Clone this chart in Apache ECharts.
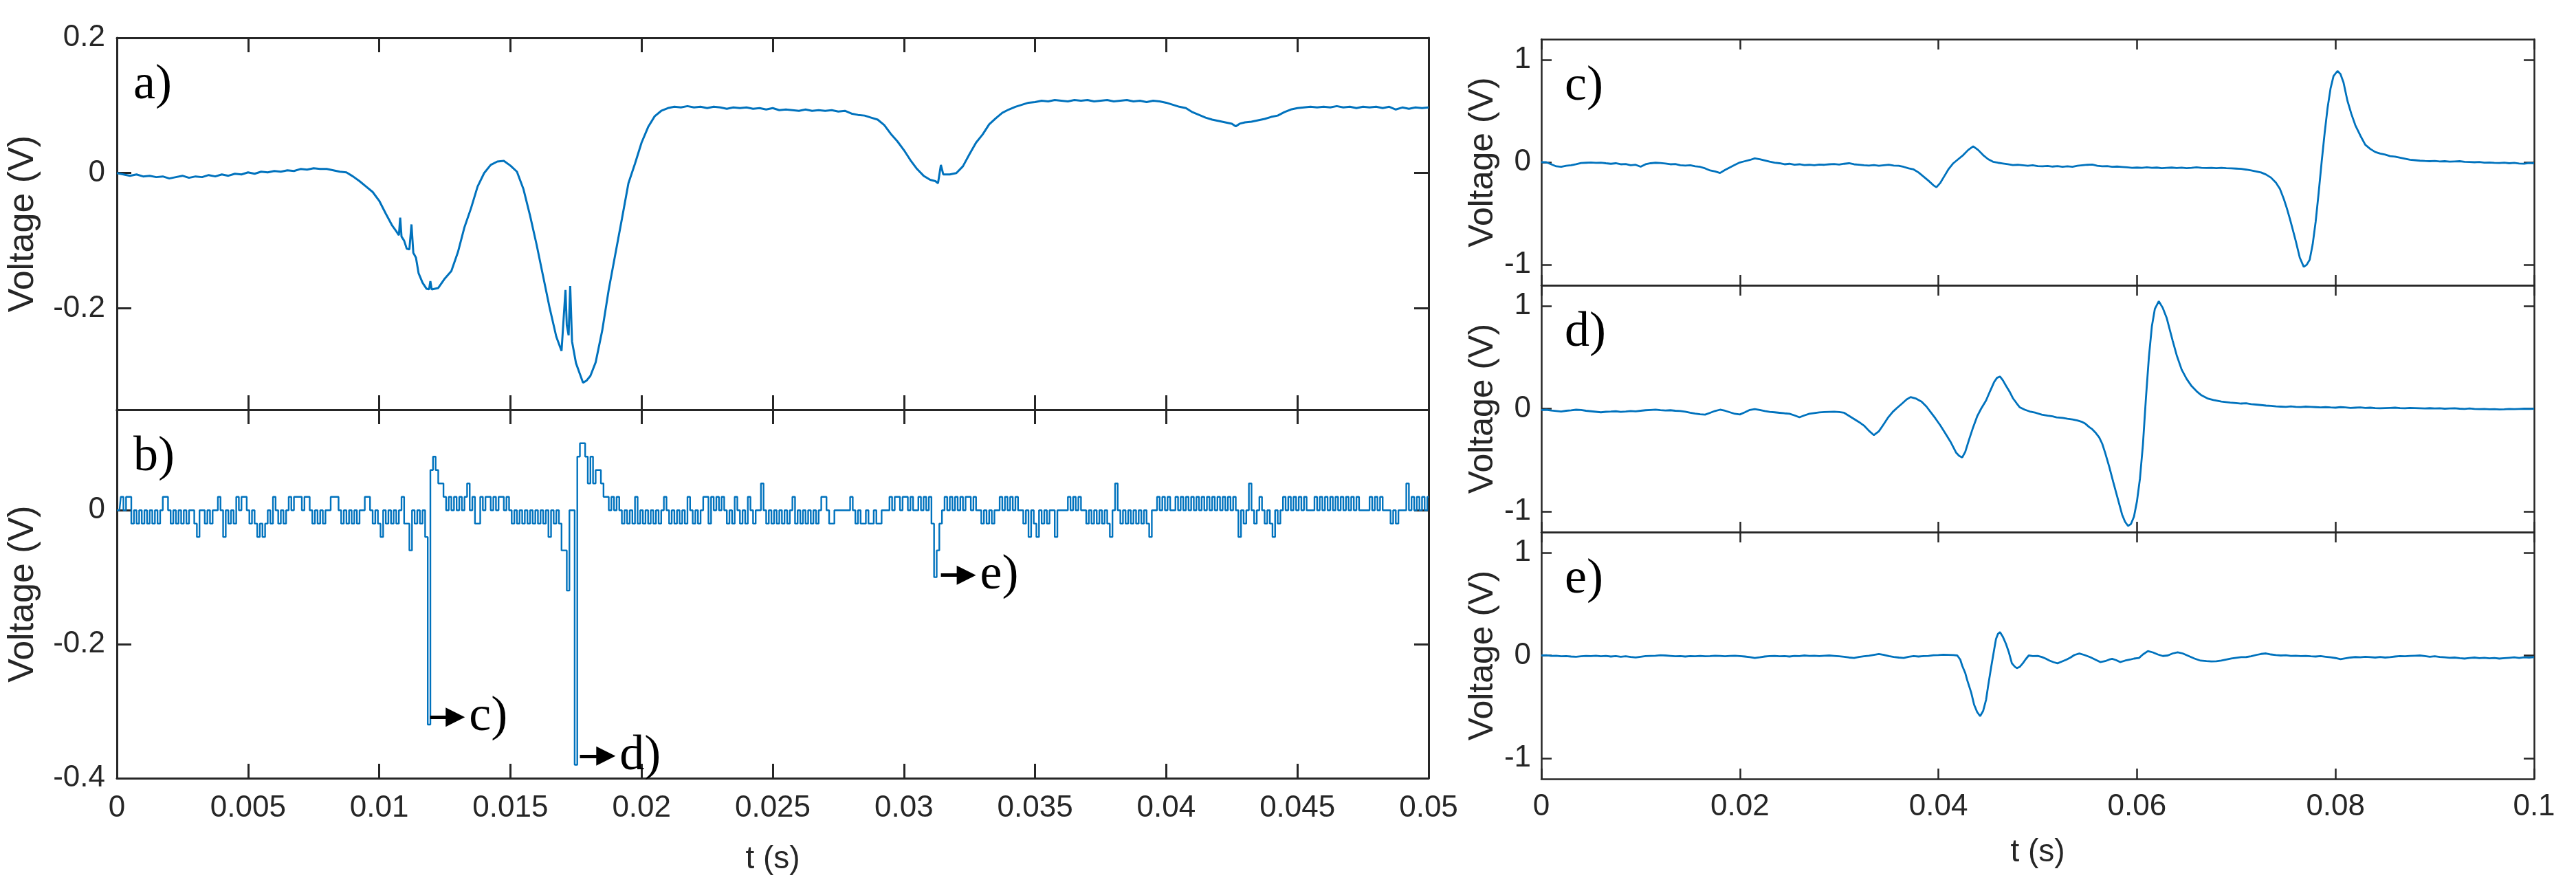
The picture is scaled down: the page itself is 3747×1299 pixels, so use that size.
<!DOCTYPE html>
<html>
<head>
<meta charset="utf-8">
<title>Voltage traces</title>
<script src="https://cdn.jsdelivr.net/npm/echarts@6/dist/echarts.min.js"></script>
<style>
  html, body { margin: 0; padding: 0; background: #fff; }
  #container { width: 3747px; height: 1299px; }
</style>
</head>
<body>
<div id="container"></div>
<script>
// a) raw trace, [t (s), V]
const aPts = [
  [0, 0], [0.00025, -0.002], [0.0005, -0.004], [0.00075, -0.002], [0.001, -0.005], [0.00125, -0.004],
  [0.0015, -0.006], [0.00175, -0.005], [0.002, -0.008], [0.00225, -0.006], [0.0025, -0.004], [0.00275, -0.007],
  [0.003, -0.005], [0.00325, -0.006], [0.0035, -0.003], [0.00375, -0.005], [0.004, -0.002], [0.00425, -0.004],
  [0.0045, -0.001], [0.00475, -0.002], [0.005, 0.001], [0.00525, -0.001], [0.0055, 0.002], [0.00575, 0.001],
  [0.006, 0.003], [0.00625, 0.002], [0.0065, 0.004], [0.00675, 0.003], [0.007, 0.006], [0.00725, 0.005],
  [0.0075, 0.007], [0.00775, 0.006], [0.008, 0.006], [0.00825, 0.004], [0.0085, 0.002], [0.00875, 0.001],
  [0.009, -0.005], [0.00925, -0.012], [0.0095, -0.02], [0.00975, -0.028], [0.01, -0.041], [0.01025, -0.06],
  [0.0105, -0.078], [0.01065, -0.086], [0.01075, -0.092], [0.0108, -0.066], [0.01085, -0.094], [0.01095, -0.1],
  [0.01105, -0.112], [0.01115, -0.113], [0.01123, -0.076], [0.0113, -0.118], [0.0114, -0.125], [0.0115, -0.148],
  [0.01165, -0.162], [0.0118, -0.171], [0.0119, -0.172], [0.01195, -0.16], [0.012, -0.172], [0.01225, -0.17],
  [0.0125, -0.156], [0.01275, -0.145], [0.013, -0.117], [0.01325, -0.08], [0.0135, -0.052], [0.01375, -0.02],
  [0.014, 0.0], [0.01425, 0.012], [0.0145, 0.017], [0.01475, 0.018], [0.015, 0.011], [0.01525, 0.002],
  [0.0155, -0.024], [0.01575, -0.063], [0.016, -0.106], [0.01625, -0.153], [0.0165, -0.2], [0.01675, -0.242],
  [0.01695, -0.263], [0.017, -0.265], [0.0171, -0.173], [0.01715, -0.225], [0.01722, -0.24], [0.01728, -0.167],
  [0.01735, -0.249], [0.0175, -0.281], [0.01763, -0.295], [0.01777, -0.31], [0.0179, -0.307], [0.01805, -0.3],
  [0.01825, -0.28], [0.0185, -0.233], [0.01875, -0.172], [0.019, -0.12], [0.01925, -0.068], [0.0195, -0.015],
  [0.01975, 0.014], [0.02, 0.045], [0.02025, 0.068], [0.0205, 0.084], [0.02075, 0.092], [0.021, 0.096],
  [0.02125, 0.098], [0.0215, 0.097], [0.02175, 0.099], [0.022, 0.097], [0.02225, 0.098], [0.0225, 0.096],
  [0.02275, 0.098], [0.023, 0.097], [0.02325, 0.095], [0.0235, 0.097], [0.02375, 0.096], [0.024, 0.097],
  [0.02425, 0.095], [0.0245, 0.096], [0.02475, 0.094], [0.025, 0.096], [0.02525, 0.093], [0.0255, 0.094],
  [0.02575, 0.093], [0.026, 0.092], [0.02625, 0.094], [0.0265, 0.092], [0.02675, 0.093], [0.027, 0.092],
  [0.02725, 0.093], [0.0275, 0.091], [0.02775, 0.092], [0.028, 0.088], [0.02825, 0.086], [0.0285, 0.085],
  [0.02875, 0.082], [0.029, 0.079], [0.02925, 0.071], [0.0295, 0.058], [0.02975, 0.047], [0.03, 0.034],
  [0.03025, 0.019], [0.0305, 0.006], [0.03075, -0.004], [0.031, -0.01], [0.0312, -0.012], [0.0313, -0.015],
  [0.03141, 0.012], [0.0315, -0.002], [0.03175, -0.002], [0.032, 0.0], [0.03225, 0.01], [0.0325, 0.028],
  [0.03275, 0.045], [0.033, 0.057], [0.03325, 0.072], [0.0335, 0.081], [0.03375, 0.089], [0.034, 0.094],
  [0.03425, 0.098], [0.0345, 0.101], [0.03475, 0.104], [0.035, 0.105], [0.03525, 0.107], [0.0355, 0.106],
  [0.03575, 0.108], [0.036, 0.107], [0.03625, 0.106], [0.0365, 0.108], [0.03675, 0.107], [0.037, 0.108],
  [0.03725, 0.106], [0.0375, 0.107], [0.03775, 0.108], [0.038, 0.106], [0.03825, 0.107], [0.0385, 0.108],
  [0.03875, 0.106], [0.039, 0.107], [0.03925, 0.105], [0.0395, 0.107], [0.03975, 0.106], [0.04, 0.104],
  [0.04025, 0.101], [0.0405, 0.098], [0.04075, 0.096], [0.041, 0.09], [0.04125, 0.086], [0.0415, 0.082],
  [0.04175, 0.079], [0.042, 0.077], [0.04225, 0.075], [0.0425, 0.073], [0.04265, 0.069], [0.0428, 0.073],
  [0.043, 0.075], [0.04325, 0.076], [0.0435, 0.078], [0.04375, 0.08], [0.044, 0.083], [0.04425, 0.085],
  [0.0445, 0.09], [0.04475, 0.094], [0.045, 0.096], [0.04525, 0.097], [0.0455, 0.098], [0.04575, 0.097],
  [0.046, 0.098], [0.04625, 0.097], [0.0465, 0.099], [0.04675, 0.097], [0.047, 0.098], [0.04725, 0.096],
  [0.0475, 0.098], [0.04775, 0.097], [0.048, 0.098], [0.04825, 0.096], [0.0485, 0.098], [0.04875, 0.094],
  [0.049, 0.097], [0.04925, 0.095], [0.0495, 0.097], [0.04975, 0.096], [0.05, 0.097]
];

// b) filtered trace, one value every bStep seconds starting at t = 0
const bStep = 0.0001;
const bVolt = [
  0, 0, 0.02, 0, 0.02, 0.02, -0.02, 0, -0.02, 0,
  -0.02, 0, -0.02, 0, -0.02, 0, -0.02, 0, 0.02, 0.02,
  0, -0.02, 0, -0.02, 0, -0.02, 0, -0.02, 0, 0,
  -0.02, -0.04, 0, 0, -0.02, 0, -0.02, 0, 0, 0.02,
  0, -0.04, 0, -0.02, 0, -0.02, 0.02, 0, 0.02, 0.02,
  0, -0.02, 0, -0.02, -0.04, -0.02, -0.04, -0.02, 0, -0.02,
  0.02, 0, -0.02, 0, -0.02, 0, 0.02, 0, 0.02, 0.02,
  0.02, 0, 0.02, 0.02, 0, -0.02, 0, -0.02, 0, -0.02,
  0, 0, 0.02, 0.02, 0.02, 0, -0.02, 0, -0.02, 0,
  -0.02, 0, -0.02, 0, 0, 0.02, 0.02, 0, -0.02, 0,
  -0.02, -0.04, 0, -0.02, 0, -0.02, 0, -0.02, 0, 0.02,
  -0.02, -0.02, -0.06, 0, -0.02, 0, -0.02, 0, -0.04, -0.32,
  0.06, 0.08, 0.06, 0.04, 0.04, 0.02, 0, 0.02, 0, 0.02,
  0, 0.02, 0, 0.02, 0.04, 0, 0.02, -0.02, -0.02, 0.02,
  0, 0.02, 0.02, 0, 0.02, 0, 0.02, 0.02, 0, 0.02,
  0, -0.02, 0, -0.02, 0, -0.02, 0, -0.02, 0, -0.02,
  0, -0.02, 0, -0.02, 0, -0.04, 0, -0.02, 0, -0.02,
  -0.06, -0.06, -0.12, 0, 0, -0.38, 0.08, 0.1, 0.1, 0.08,
  0.04, 0.08, 0.04, 0.06, 0.06, 0.04, 0.02, 0.02, 0, 0.02,
  0, 0.02, 0, -0.02, 0, -0.02, 0, -0.02, 0.02, -0.02,
  0, -0.02, 0, -0.02, 0, -0.02, 0, -0.02, 0, 0.02,
  0, -0.02, 0, -0.02, 0, -0.02, 0, -0.02, 0.02, 0,
  -0.02, 0, -0.02, 0, 0.02, 0.02, -0.02, 0.02, 0, 0.02,
  0, 0.02, 0, -0.02, 0, -0.02, 0.02, 0, -0.02, 0,
  -0.02, 0.02, 0, -0.02, 0, 0, 0.04, 0, -0.02, 0,
  -0.02, 0, -0.02, 0, -0.02, 0, -0.02, 0, 0.02, -0.02,
  0, -0.02, 0, -0.02, 0, -0.02, 0, -0.02, 0, 0.02,
  0.02, 0, -0.02, -0.02, 0, 0, 0, 0, 0, 0,
  0.02, 0, -0.02, 0, -0.02, -0.02, 0, -0.02, -0.02, 0,
  -0.02, -0.02, 0, 0, 0, 0.02, 0, 0.02, 0.02, 0,
  0.02, 0.02, 0, 0.02, 0, 0, 0.02, 0, 0.02, 0,
  0.02, -0.02, -0.1, -0.06, -0.02, 0, 0.02, 0, 0.02, 0,
  0.02, 0, 0.02, 0, 0.02, 0.02, 0, 0.02, 0, 0,
  -0.02, 0, -0.02, 0, -0.02, 0, 0, 0.02, 0, 0.02,
  0, 0.02, 0, 0.02, 0, 0, -0.02, 0, -0.04, 0,
  -0.02, -0.04, 0, -0.02, 0, -0.02, 0, 0, -0.04, 0,
  0, 0, 0, 0.02, 0, 0.02, 0, 0.02, 0, 0,
  -0.02, 0, -0.02, 0, -0.02, 0, -0.02, 0, -0.02, -0.04,
  0, 0.04, 0, -0.02, 0, -0.02, 0, -0.02, 0, -0.02,
  0, -0.02, 0, -0.02, -0.04, 0, 0, 0.02, 0, 0.02,
  0, 0.02, 0, 0, 0.02, 0, 0.02, 0, 0.02, 0,
  0.02, 0, 0.02, 0, 0.02, 0, 0.02, 0, 0.02, 0,
  0.02, 0, 0.02, 0, 0.02, 0, 0.02, 0, -0.04, 0,
  -0.02, 0, 0.04, 0, -0.02, 0, 0.02, 0, -0.02, 0,
  -0.02, -0.04, 0, -0.02, 0, 0.02, 0, 0.02, 0, 0.02,
  0, 0.02, 0, 0.02, 0, 0, 0, 0.02, 0, 0.02,
  0, 0.02, 0, 0.02, 0, 0.02, 0, 0.02, 0, 0.02,
  0, 0.02, 0, 0.02, 0, 0, 0, 0, 0.02, 0,
  0.02, 0, 0.02, 0, 0, 0, -0.02, 0, -0.02, 0,
  0, 0, 0.04, 0, 0.02, 0, 0.02, 0, 0.02, 0, 0.02
];

// pointers from the pulses in b) to the zoomed panels
const arrowTags = ['c)', 'd)', 'e)'];
const arrowFrom = [0.01194, 0.01765, 0.03141];
const arrowTo = [0.0129, 0.01864, 0.03238];
const arrowLevel = [-0.309, -0.367, -0.097];

// c) d) e) pulse records, [t (s), V]
const cPts = [
  [0, 0.0], [0.0005, 0.0], [0.001, -0.02], [0.0015, -0.04], [0.002, -0.045], [0.0025, -0.035], [0.003, -0.03],
  [0.0035, -0.02], [0.004, -0.008], [0.0045, -0.005], [0.005, -0.002], [0.0055, -0.006], [0.006, -0.004],
  [0.0065, -0.01], [0.007, -0.015], [0.0075, -0.01], [0.008, -0.02], [0.0085, -0.018], [0.009, -0.03],
  [0.0095, -0.025], [0.01, -0.044], [0.0105, -0.02], [0.011, -0.01], [0.0115, -0.005], [0.012, -0.008],
  [0.0125, -0.012], [0.013, -0.02], [0.0135, -0.018], [0.014, -0.03], [0.0145, -0.033], [0.015, -0.03],
  [0.0155, -0.04], [0.016, -0.045], [0.0165, -0.06], [0.017, -0.08], [0.0175, -0.09], [0.018, -0.105],
  [0.0185, -0.075], [0.019, -0.05], [0.0195, -0.025], [0.02, -0.002], [0.0205, 0.01], [0.021, 0.022],
  [0.0215, 0.038], [0.022, 0.03], [0.0225, 0.018], [0.023, 0.006], [0.0235, -0.004], [0.024, -0.01],
  [0.0245, -0.02], [0.025, -0.015], [0.0255, -0.024], [0.026, -0.02], [0.0265, -0.028], [0.027, -0.025],
  [0.0275, -0.03], [0.028, -0.022], [0.0285, -0.025], [0.029, -0.02], [0.0295, -0.018], [0.03, -0.022],
  [0.0305, -0.015], [0.031, -0.01], [0.0315, -0.02], [0.032, -0.025], [0.0325, -0.03], [0.033, -0.033],
  [0.0335, -0.028], [0.034, -0.035], [0.0345, -0.03], [0.035, -0.025], [0.0355, -0.033], [0.036, -0.035],
  [0.0365, -0.045], [0.037, -0.06], [0.0375, -0.07], [0.038, -0.1], [0.0385, -0.14], [0.039, -0.18],
  [0.0395, -0.225], [0.0398, -0.244], [0.0402, -0.2], [0.0406, -0.135], [0.041, -0.07], [0.0415, -0.01],
  [0.042, 0.03], [0.0425, 0.07], [0.043, 0.12], [0.0435, 0.155], [0.044, 0.12], [0.0445, 0.07], [0.045, 0.03],
  [0.0455, 0.005], [0.046, -0.005], [0.0465, -0.012], [0.047, -0.02], [0.0475, -0.028], [0.048, -0.025],
  [0.0485, -0.03], [0.049, -0.035], [0.0495, -0.03], [0.05, -0.038], [0.0505, -0.04], [0.051, -0.036],
  [0.0515, -0.042], [0.052, -0.038], [0.0525, -0.045], [0.053, -0.04], [0.0535, -0.044], [0.054, -0.035],
  [0.0545, -0.03], [0.055, -0.025], [0.0555, -0.022], [0.056, -0.035], [0.0565, -0.04], [0.057, -0.038],
  [0.0575, -0.045], [0.058, -0.042], [0.0585, -0.046], [0.059, -0.05], [0.0595, -0.054], [0.06, -0.052],
  [0.0605, -0.055], [0.061, -0.05], [0.0615, -0.055], [0.062, -0.052], [0.0625, -0.058], [0.063, -0.055],
  [0.0635, -0.052], [0.064, -0.056], [0.0645, -0.053], [0.065, -0.058], [0.0655, -0.055], [0.066, -0.05],
  [0.0665, -0.054], [0.067, -0.056], [0.0675, -0.055], [0.068, -0.058], [0.0685, -0.055], [0.069, -0.058],
  [0.0695, -0.06], [0.07, -0.062], [0.0705, -0.065], [0.071, -0.072], [0.0715, -0.08], [0.072, -0.09],
  [0.0725, -0.1], [0.073, -0.12], [0.0735, -0.15], [0.074, -0.2], [0.0744, -0.26], [0.0748, -0.36],
  [0.0751, -0.45], [0.0754, -0.55], [0.0757, -0.66], [0.076, -0.77], [0.0764, -0.93], [0.0768, -1.02],
  [0.0771, -1.0], [0.0774, -0.95], [0.0777, -0.8], [0.078, -0.58], [0.0783, -0.3], [0.0786, 0.0],
  [0.0789, 0.28], [0.0792, 0.53], [0.0795, 0.72], [0.0798, 0.84], [0.0802, 0.89], [0.0805, 0.86],
  [0.0808, 0.78], [0.0812, 0.6], [0.0816, 0.47], [0.082, 0.36], [0.0825, 0.26], [0.083, 0.17],
  [0.0835, 0.13], [0.084, 0.1], [0.0845, 0.085], [0.085, 0.075], [0.0855, 0.06], [0.086, 0.055],
  [0.0865, 0.045], [0.087, 0.035], [0.0875, 0.025], [0.088, 0.02], [0.0885, 0.015], [0.089, 0.012],
  [0.0895, 0.01], [0.09, 0.012], [0.0905, 0.008], [0.091, 0.01], [0.0915, 0.006], [0.092, 0.008],
  [0.0925, 0.01], [0.093, 0.004], [0.0935, 0.002], [0.094, 0.0], [0.0945, 0.002], [0.095, -0.004],
  [0.0955, -0.002], [0.096, -0.006], [0.0965, -0.008], [0.097, -0.004], [0.0975, -0.01], [0.098, -0.006],
  [0.0985, -0.012], [0.099, -0.014], [0.0995, -0.008], [0.1, -0.01]
];

const dPts = [
  [0, -0.013], [0.0005, -0.01], [0.001, -0.018], [0.0015, -0.022], [0.002, -0.027], [0.0025, -0.02],
  [0.003, -0.016], [0.0035, -0.01], [0.004, -0.013], [0.0045, -0.02], [0.005, -0.025], [0.0055, -0.03],
  [0.006, -0.035], [0.0065, -0.03], [0.007, -0.028], [0.0075, -0.025], [0.008, -0.031], [0.0085, -0.027],
  [0.009, -0.022], [0.0095, -0.026], [0.01, -0.02], [0.0105, -0.015], [0.011, -0.012], [0.0115, -0.009],
  [0.012, -0.014], [0.0125, -0.018], [0.013, -0.015], [0.0135, -0.02], [0.014, -0.022], [0.0145, -0.03],
  [0.015, -0.04], [0.0155, -0.048], [0.016, -0.055], [0.0165, -0.058], [0.017, -0.04], [0.0175, -0.022],
  [0.018, -0.01], [0.0185, -0.02], [0.019, -0.035], [0.0195, -0.05], [0.02, -0.056], [0.0205, -0.035],
  [0.021, -0.012], [0.0215, -0.004], [0.022, -0.012], [0.0225, -0.022], [0.023, -0.031], [0.0235, -0.035],
  [0.024, -0.04], [0.0245, -0.045], [0.025, -0.049], [0.0255, -0.065], [0.026, -0.084], [0.0265, -0.065],
  [0.027, -0.049], [0.0275, -0.042], [0.028, -0.036], [0.0285, -0.033], [0.029, -0.031], [0.0295, -0.029],
  [0.03, -0.033], [0.0305, -0.04], [0.031, -0.07], [0.0315, -0.1], [0.032, -0.13], [0.0325, -0.164],
  [0.033, -0.215], [0.0335, -0.257], [0.034, -0.22], [0.0344, -0.164], [0.0349, -0.09], [0.0354, -0.031],
  [0.0358, 0.005], [0.0363, 0.047], [0.0368, 0.09], [0.0372, 0.113], [0.0377, 0.1], [0.0383, 0.069],
  [0.0388, 0.02], [0.0392, -0.031], [0.0397, -0.095], [0.0402, -0.164], [0.0407, -0.24], [0.0412, -0.319],
  [0.0418, -0.43], [0.0421, -0.46], [0.0424, -0.474], [0.0427, -0.42], [0.0431, -0.297], [0.0435, -0.18],
  [0.0439, -0.075], [0.0443, 0.0], [0.0448, 0.08], [0.0452, 0.17], [0.0456, 0.257], [0.0459, 0.3],
  [0.0462, 0.313], [0.0465, 0.275], [0.0468, 0.224], [0.0472, 0.16], [0.0475, 0.102], [0.0479, 0.05],
  [0.0482, 0.013], [0.0487, -0.01], [0.0492, -0.027], [0.0498, -0.04], [0.0504, -0.058], [0.051, -0.068],
  [0.0515, -0.075], [0.0519, -0.084], [0.0525, -0.09], [0.053, -0.098], [0.0535, -0.105], [0.054, -0.115],
  [0.0545, -0.13], [0.0548, -0.146], [0.0552, -0.18], [0.0555, -0.2], [0.0558, -0.23], [0.0562, -0.28],
  [0.0565, -0.341], [0.0568, -0.43], [0.0572, -0.563], [0.0576, -0.71], [0.058, -0.851], [0.0585, -1.029],
  [0.0588, -1.1], [0.0591, -1.14], [0.0594, -1.12], [0.0597, -1.05], [0.06, -0.9], [0.0603, -0.68],
  [0.0606, -0.35], [0.0609, 0.1], [0.0612, 0.5], [0.0615, 0.8], [0.0618, 0.97], [0.0622, 1.045],
  [0.0626, 0.98], [0.063, 0.88], [0.0636, 0.66], [0.064, 0.52], [0.0645, 0.38], [0.065, 0.29],
  [0.0655, 0.22], [0.066, 0.17], [0.0665, 0.13], [0.0671, 0.1], [0.0677, 0.085], [0.0685, 0.07],
  [0.0694, 0.06], [0.07, 0.055], [0.0705, 0.05], [0.071, 0.052], [0.0715, 0.045], [0.072, 0.04],
  [0.0725, 0.035], [0.073, 0.03], [0.0735, 0.028], [0.074, 0.022], [0.0745, 0.02], [0.075, 0.018],
  [0.0755, 0.022], [0.076, 0.018], [0.0765, 0.016], [0.077, 0.02], [0.0775, 0.018], [0.078, 0.015],
  [0.0785, 0.012], [0.079, 0.015], [0.0795, 0.012], [0.08, 0.01], [0.0805, 0.015], [0.081, 0.012],
  [0.0815, 0.008], [0.082, 0.01], [0.0825, 0.012], [0.083, 0.008], [0.0835, 0.01], [0.084, 0.006],
  [0.0845, 0.004], [0.085, 0.006], [0.0855, 0.008], [0.086, 0.01], [0.0865, 0.006], [0.087, 0.004],
  [0.0875, 0.008], [0.088, 0.006], [0.0885, 0.004], [0.089, 0.002], [0.0895, 0.005], [0.09, 0.003],
  [0.0905, 0.004], [0.091, 0.0], [0.0915, 0.002], [0.092, 0.004], [0.0925, 0.0], [0.093, -0.002],
  [0.0935, 0.002], [0.094, -0.002], [0.0945, -0.004], [0.095, -0.002], [0.0955, -0.006], [0.096, -0.004],
  [0.0965, -0.008], [0.097, -0.006], [0.0975, -0.002], [0.098, -0.004], [0.0985, -0.002], [0.099, 0.0],
  [0.0995, -0.002], [0.1, 0.0]
];

const ePts = [
  [0, 0.0], [0.0005, 0.002], [0.001, -0.004], [0.0015, -0.002], [0.002, -0.008], [0.0025, -0.006],
  [0.003, -0.01], [0.0035, -0.012], [0.004, -0.008], [0.0045, -0.004], [0.005, -0.006], [0.0055, -0.002],
  [0.006, -0.008], [0.0065, -0.004], [0.007, -0.01], [0.0075, -0.006], [0.008, -0.012], [0.0085, -0.008],
  [0.009, -0.014], [0.0095, -0.019], [0.01, -0.012], [0.0105, -0.006], [0.011, -0.004], [0.0115, -0.002],
  [0.012, 0.002], [0.0125, 0.0], [0.013, -0.004], [0.0135, -0.008], [0.014, -0.006], [0.0145, -0.01],
  [0.015, -0.006], [0.0155, -0.008], [0.016, -0.004], [0.0165, -0.008], [0.017, -0.006], [0.0175, -0.002],
  [0.018, -0.004], [0.0185, -0.008], [0.019, -0.004], [0.0195, -0.002], [0.02, -0.006], [0.0205, -0.01],
  [0.021, -0.016], [0.0215, -0.024], [0.022, -0.018], [0.0225, -0.01], [0.023, -0.006], [0.0235, -0.004],
  [0.024, -0.008], [0.0245, -0.006], [0.025, -0.01], [0.0255, -0.004], [0.026, -0.006], [0.0265, 0.0],
  [0.027, -0.004], [0.0275, -0.002], [0.028, -0.006], [0.0285, -0.002], [0.029, 0.0], [0.0295, -0.004],
  [0.03, -0.008], [0.0305, -0.012], [0.031, -0.02], [0.0315, -0.024], [0.032, -0.014], [0.0325, -0.008],
  [0.033, -0.002], [0.0335, 0.006], [0.034, 0.014], [0.0345, 0.006], [0.035, -0.006], [0.0355, -0.014],
  [0.036, -0.02], [0.0365, -0.024], [0.037, -0.012], [0.0375, -0.006], [0.038, -0.01], [0.0385, -0.006],
  [0.039, -0.004], [0.0395, 0.002], [0.04, 0.004], [0.0405, 0.008], [0.041, 0.006], [0.0415, 0.004],
  [0.0419, 0.0], [0.0422, -0.04], [0.0424, -0.1], [0.0427, -0.17], [0.0429, -0.24], [0.0433, -0.36],
  [0.0436, -0.48], [0.0439, -0.55], [0.0442, -0.59], [0.0445, -0.54], [0.0448, -0.43], [0.045, -0.3],
  [0.0453, -0.12], [0.0456, 0.05], [0.0458, 0.16], [0.046, 0.21], [0.0462, 0.227], [0.0465, 0.18],
  [0.0468, 0.114], [0.0471, 0.03], [0.0474, -0.076], [0.0477, -0.11], [0.0479, -0.123], [0.0482, -0.11],
  [0.0485, -0.076], [0.0488, -0.035], [0.0491, 0.0], [0.0495, -0.006], [0.05, -0.004], [0.0504, -0.014],
  [0.0508, -0.03], [0.0512, -0.05], [0.0516, -0.065], [0.052, -0.076], [0.0524, -0.06], [0.0529, -0.04],
  [0.0533, -0.02], [0.0537, 0.005], [0.0542, 0.019], [0.0547, 0.005], [0.0553, -0.017], [0.0558, -0.04],
  [0.0563, -0.064], [0.0568, -0.055], [0.0572, -0.04], [0.0575, -0.033], [0.0579, -0.045], [0.0583, -0.064],
  [0.0588, -0.05], [0.0593, -0.04], [0.0597, -0.03], [0.0602, -0.024], [0.0606, 0.01], [0.0611, 0.043],
  [0.0616, 0.03], [0.0621, 0.01], [0.0626, -0.005], [0.0631, 0.0], [0.0636, 0.02], [0.0641, 0.031],
  [0.0646, 0.02], [0.0652, -0.005], [0.0658, -0.03], [0.0664, -0.05], [0.067, -0.055], [0.0675, -0.058],
  [0.068, -0.056], [0.0685, -0.05], [0.069, -0.04], [0.0695, -0.03], [0.07, -0.022], [0.0705, -0.016],
  [0.071, -0.015], [0.0715, -0.008], [0.072, 0.005], [0.0725, 0.015], [0.073, 0.02], [0.0735, 0.01],
  [0.074, 0.004], [0.0745, 0.0], [0.075, 0.002], [0.0755, -0.004], [0.076, -0.002], [0.0765, -0.006],
  [0.077, -0.004], [0.0775, -0.008], [0.078, -0.01], [0.0785, -0.006], [0.079, -0.012], [0.0795, -0.018],
  [0.08, -0.025], [0.0805, -0.036], [0.081, -0.028], [0.0815, -0.02], [0.082, -0.015], [0.0825, -0.018],
  [0.083, -0.012], [0.0835, -0.016], [0.084, -0.02], [0.0845, -0.014], [0.085, -0.02], [0.0855, -0.016],
  [0.086, -0.01], [0.0865, -0.006], [0.087, -0.008], [0.0875, -0.004], [0.088, -0.002], [0.0885, 0.0],
  [0.089, -0.006], [0.0895, -0.012], [0.09, -0.008], [0.0905, -0.014], [0.091, -0.018], [0.0915, -0.022],
  [0.092, -0.02], [0.0925, -0.026], [0.093, -0.03], [0.0935, -0.024], [0.094, -0.02], [0.0945, -0.026],
  [0.095, -0.022], [0.0955, -0.028], [0.096, -0.024], [0.0965, -0.03], [0.097, -0.026], [0.0975, -0.022],
  [0.098, -0.018], [0.0985, -0.024], [0.099, -0.018], [0.0995, -0.02], [0.1, -0.015]
];

// axis ranges and tick values
const leftTicksA = [-0.2, 0, 0.2];
const leftTicksB = [-0.4, -0.2, 0];
const rightTicks = [-1, 0, 1];

const blue = '#0072BD';
const ink = '#262626';
const sans = '"Liberation Sans", Arial, Helvetica, sans-serif';
const serif = '"Liberation Serif", "Times New Roman", serif';

// panel boxes (pixels) and their letter tags
const panels = [
  { left: 160, top: 55, width: 1918, height: 541, tag: 'a)' },
  { left: 160, top: 596, width: 1918, height: 536, tag: 'b)' },
  { left: 2242, top: 57, width: 1444, height: 358, tag: 'c)' },
  { left: 2242, top: 415, width: 1444, height: 359, tag: 'd)' },
  { left: 2242, top: 774, width: 1444, height: 359, tag: 'e)' }
];

function fmt(v) { return String(+v.toFixed(4)); }

function xAxes(g, max, step, st) {
  const common = {
    type: 'value', gridIndex: g, min: 0, max: max, interval: step,
    axisLine: { show: true, onZero: false, lineStyle: { color: ink, width: st.lw } },
    axisTick: { show: true, inside: true, length: st.tick, lineStyle: { color: ink, width: st.lw } },
    splitLine: { show: false }
  };
  const bottom = Object.assign({}, common, {
    position: 'bottom',
    axisLabel: { show: st.labels, margin: st.margin, fontSize: 44, fontFamily: sans, color: ink, formatter: fmt }
  });
  if (st.labels) {
    Object.assign(bottom, {
      name: 't (s)', nameLocation: 'middle', nameGap: st.nameGap,
      nameTextStyle: { fontSize: 46, fontFamily: sans, color: ink }
    });
  }
  const top = Object.assign({}, common, { position: 'top', axisLabel: { show: false } });
  return [bottom, top];
}

function yAxes(g, min, max, ticks, st) {
  const common = {
    type: 'value', gridIndex: g, min: min, max: max,
    axisLine: { show: true, onZero: false, lineStyle: { color: ink, width: st.lw } },
    axisTick: { show: true, inside: true, length: st.tick, customValues: ticks, lineStyle: { color: ink, width: st.lw } },
    splitLine: { show: false }
  };
  const left = Object.assign({}, common, {
    position: 'left',
    axisLabel: { show: true, customValues: ticks, margin: st.margin, fontSize: 44, fontFamily: sans, color: ink, formatter: fmt },
    name: 'Voltage (V)', nameLocation: 'middle', nameGap: st.nameGap,
    nameTextStyle: { fontSize: st.nameSize, fontFamily: sans, color: ink }
  });
  const right = Object.assign({}, common, { position: 'right', axisLabel: { show: false } });
  return [left, right];
}

const leftStyle = { lw: 3, tick: 21, margin: 22, labels: false, nameGap: 95 };
const rightStyle = { lw: 2.5, tick: 15, margin: 19, labels: false, nameGap: 84 };

const xAxisList = [].concat(
  xAxes(0, 0.05, 0.005, leftStyle),
  xAxes(1, 0.05, 0.005, Object.assign({}, leftStyle, { labels: true })),
  xAxes(2, 0.1, 0.02, rightStyle),
  xAxes(3, 0.1, 0.02, rightStyle),
  xAxes(4, 0.1, 0.02, Object.assign({}, rightStyle, { labels: true }))
);

const yLeft = { lw: 3, tick: 21, margin: 17, nameGap: 110, nameSize: 52 };
const yRight = { lw: 2.5, tick: 15, margin: 15, nameGap: 60, nameSize: 50 };

const yAxisList = [].concat(
  yAxes(0, -0.35, 0.2, leftTicksA, yLeft),
  yAxes(1, -0.4, 0.15, leftTicksB, yLeft),
  yAxes(2, -1.2, 1.2, rightTicks, yRight),
  yAxes(3, -1.2, 1.2, rightTicks, yRight),
  yAxes(4, -1.2, 1.2, rightTicks, yRight)
);

function trace(g, data, width, extra) {
  return Object.assign({
    type: 'line', xAxisIndex: 2 * g, yAxisIndex: 2 * g, data: data,
    showSymbol: false, symbol: 'none', clip: true, animation: false,
    lineStyle: { color: blue, width: width }, itemStyle: { color: blue }
  }, extra || {});
}

const bData = bVolt.map((v, i) => [+(i * bStep).toFixed(5), v]);

const arrowMarks = {
  silent: true, animation: false,
  symbol: ['none', 'triangle'], symbolSize: [28, 28],
  lineStyle: { color: '#000', width: 5, type: 'solid' },
  label: { show: true, position: 'end', distance: 20, fontFamily: serif, fontSize: 72, color: '#000' },
  data: arrowTags.map((tag, k) => [
    { coord: [arrowFrom[k], arrowLevel[k]], label: { formatter: tag } },
    { coord: [arrowTo[k], arrowLevel[k]] }
  ])
};

const option = {
  backgroundColor: '#fff',
  animation: false,
  grid: panels.map(p => ({ left: p.left, top: p.top, width: p.width, height: p.height, containLabel: false })),
  xAxis: xAxisList,
  yAxis: yAxisList,
  graphic: panels.map(p => ({
    type: 'text', x: p.left + 34, y: p.top + 69, silent: true,
    style: { text: p.tag, font: '72px ' + serif, fill: '#000', verticalAlign: 'middle' }
  })),
  series: [
    trace(0, aPts, 3),
    trace(1, bData, 2.4, { step: 'middle', markLine: arrowMarks }),
    trace(2, cPts, 2.8),
    trace(3, dPts, 2.8),
    trace(4, ePts, 2.8)
  ]
};

const chart = echarts.init(document.getElementById('container'), null, { renderer: 'canvas' });
chart.setOption(option);
window.addEventListener('resize', () => chart.resize());
</script>
</body>
</html>
